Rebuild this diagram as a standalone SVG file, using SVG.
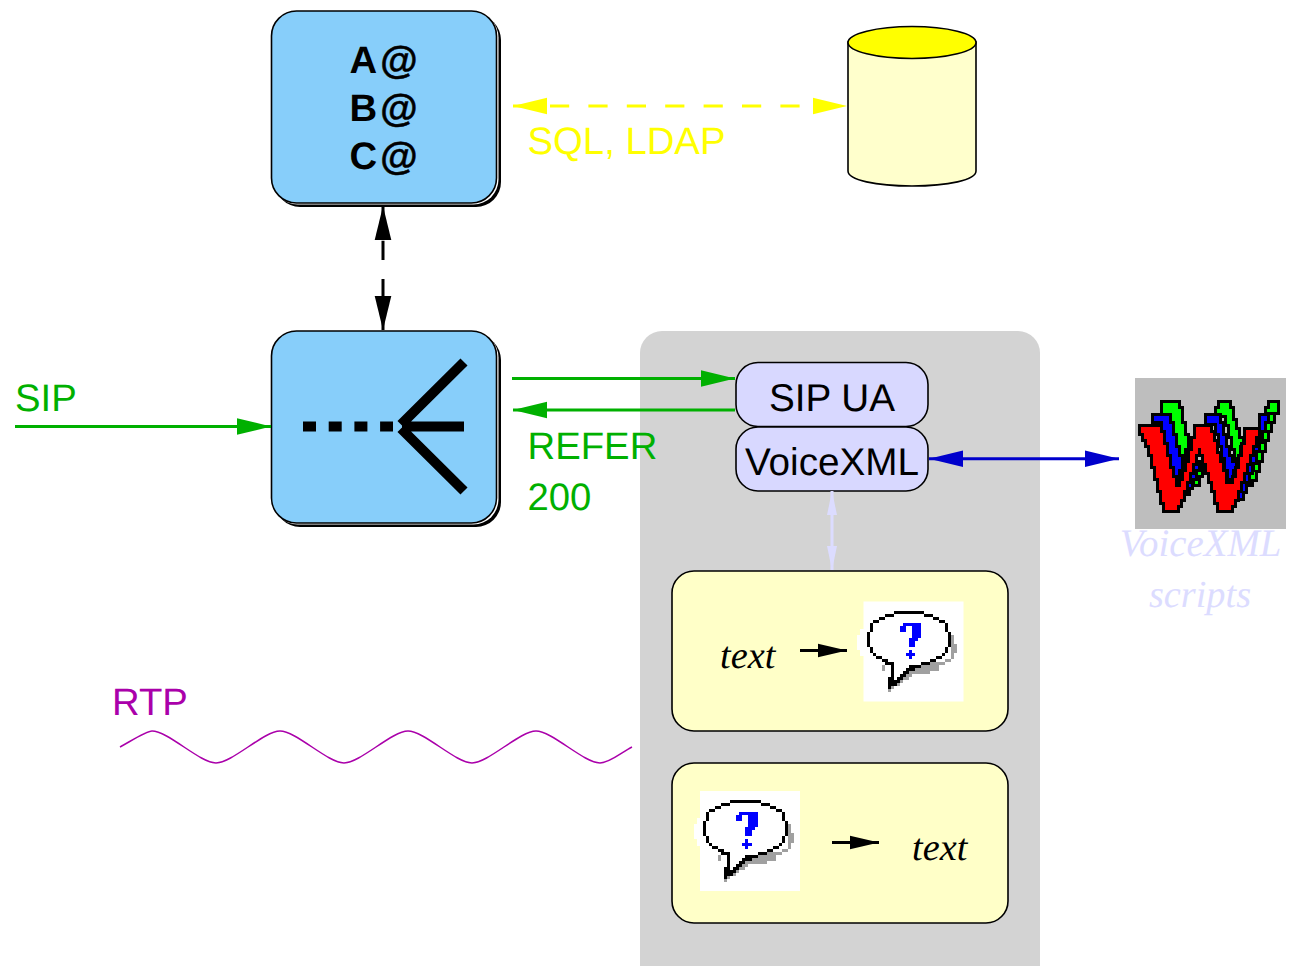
<svg xmlns="http://www.w3.org/2000/svg" width="1289" height="966" viewBox="0 0 1289 966">
<style>
text{font-family:"Liberation Sans",Arial,sans-serif;font-size:38.300px;text-rendering:geometricPrecision}
.b{font-weight:bold;text-anchor:middle;fill:#000}
.at{stroke:#000;stroke-width:.5}
.i{font-family:"Liberation Serif","Times New Roman",serif;font-style:italic}
.big{font-size:38.700px}
.m{text-anchor:middle}
.o{stroke:#000;stroke-width:1.600}
.g{fill:#00b000}
.ln{stroke-width:3;fill:none}
.w{stroke:#000;stroke-width:18;stroke-linejoin:miter;paint-order:stroke;shape-rendering:crispEdges}
.px{shape-rendering:crispEdges}
</style>
<defs>
<marker id="ak" markerUnits="userSpaceOnUse" markerWidth="36" markerHeight="20" refX="34" refY="10" orient="auto-start-reverse"><path d="M0 1.700L34 10L0 18.300z" fill="#000"/></marker>
<marker id="as" markerUnits="userSpaceOnUse" markerWidth="30" markerHeight="16" refX="29" refY="8" orient="auto"><path d="M0 1.200L29 8L0 14.800z" fill="#000"/></marker>
<marker id="ag" markerUnits="userSpaceOnUse" markerWidth="36" markerHeight="20" refX="34" refY="10" orient="auto-start-reverse"><path d="M0 1.700L34 10L0 18.300z" fill="#00b000"/></marker>
<marker id="ay" markerUnits="userSpaceOnUse" markerWidth="36" markerHeight="20" refX="34" refY="10" orient="auto-start-reverse"><path d="M0 1.700L34 10L0 18.300z" fill="#ffff00"/></marker>
<marker id="an" markerUnits="userSpaceOnUse" markerWidth="36" markerHeight="20" refX="34" refY="10" orient="auto-start-reverse"><path d="M0 1.700L34 10L0 18.300z" fill="#0000cc"/></marker>
<marker id="al" markerUnits="userSpaceOnUse" markerWidth="26" markerHeight="14" refX="24" refY="7" orient="auto-start-reverse"><path d="M0 2L24 7L0 12z" fill="#dcdcff"/></marker>
<g id="balloon">
<rect x="0" y="0" width="100" height="100" fill="#fff"/>
<g transform="scale(3.030)" class="px">
<path fill="#a0a0a0" d="M29 11H30V14H31V17H30V19H27V21H25V23H22V24H16V25H15V26H13V27H12V28H10V29H9V30H8V23H6V21H5V20H29Z"/>
<path fill="#fff" d="M10 3h10v1h3v1h2v1h2v2h1v2h1v5h-1v2h-1v1h-2v1h-2v1h-3v1h-4v1h-2v1h-1v1h-1v1h-1v1h-2v1h-1v1h-1v-7h-3v-1h-2v-1h-2v-1h-1v-2h-1v-5h1v-2h1v-1h2v-1h2v-1h3z"/>
<path fill="#000" d="M10 3h10v1h-10zM7 4h3v1h-3zM20 4h3v1h-3zM5 5h2v1h-2zM23 5h2v1h-2zM3 6h2v1h-2zM25 6h2v1h-2zM2 7h1v3h-1zM27 7h1v3h-1zM1 10h1v5h-1zM28 10h1v5h-1zM2 15h1v2h-1zM27 15h1v2h-1zM3 17h1v1h-1zM26 17h1v1h-1zM4 18h2v1h-2zM24 18h2v1h-2zM6 19h2v1h-2zM22 19h2v1h-2zM7 20h3v1h-3zM19 20h3v1h-3zM9 21h1v5h-1zM15 21h4v1h-4zM14 22h3v1h-3zM13 23h2v1h-2zM12 24h2v1h-2zM11 25h2v1h-2zM10 26h2v1h-2zM9 27h2v1h-2zM8 25h2v3h-2zM8 28h1v1h-1z"/>
<path fill="#0000ff" d="M13 7h6v1h-6zM12 8h2v2h-2zM16 8h3v4h-3zM15 12h3v1h-3zM15 13h2v2h-2zM15 16h1v1h1v1h-1v1h-1v-1h-1v-1h1z"/>
</g>
</g>
</defs>

<g id="container"><rect x="640" y="331" width="400" height="660" rx="22" fill="#d3d3d3"/></g>

<g id="directory">
<rect x="275" y="15" width="226" height="192" rx="25" fill="#000"/>
<rect x="272.500" y="12.500" width="226" height="192" rx="25" fill="#fff"/>
<rect x="271.500" y="11" width="225" height="192" rx="25" fill="#87cefa" class="o"/>
<text class="b" x="383.500" y="73">A<tspan dx="3" class="at">@</tspan></text>
<text class="b" x="383.500" y="121">B<tspan dx="3" class="at">@</tspan></text>
<text class="b" x="383.500" y="169">C<tspan dx="3" class="at">@</tspan></text>
</g>

<g id="database">
<path d="M848 42V171C848 180 876 186 912 186C948 186 976 180 976 171V42z" fill="#ffffcc" class="o"/>
<ellipse cx="912" cy="42.500" rx="64" ry="16" fill="#ffff00" class="o"/>
</g>
<text x="527.500" y="154" fill="#ffff00">SQL, LDAP</text>

<g id="router">
<rect x="275" y="335" width="226" height="192" rx="25" fill="#000"/>
<rect x="272.500" y="332.500" width="226" height="192" rx="25" fill="#fff"/>
<rect x="271.500" y="331" width="225" height="192" rx="25" fill="#87cefa" class="o"/>
<path d="M303 426.500H393" stroke="#000" stroke-width="10" stroke-dasharray="13 12.700" fill="none"/>
<path d="M464 362L401 424.500M464 491L401 428.500M402 426.500H464" stroke="#000" stroke-width="10" fill="none"/>
</g>
<text x="15" y="411" class="g">SIP</text>
<text x="527.500" y="459" class="g">REFER</text>
<text x="527.500" y="510" class="g">200</text>

<g id="sip-ua"><rect x="736" y="362.500" width="192" height="64" rx="22" fill="#d8d8ff" class="o"/><text class="m big" x="832" y="411" fill="#000">SIP UA</text></g>
<g id="voicexml"><rect x="736" y="427" width="192" height="64" rx="22" fill="#d8d8ff" class="o"/><text class="m big" x="832" y="475" fill="#000">VoiceXML</text></g>

<g id="scripts-icon">
<rect x="1135" y="378" width="151" height="151" fill="#bebebe"/>
<g transform="translate(1120 370) scale(.3333)">
<g class="w" fill="#00ff00">
<path d="M450 100H472V127H441V118H450Z"/>
<path d="M450 136h9v18h-9zM441 163h9v18h-9zM432 190h9v18h-9zM423 222h9v18h-9zM414 249h9v22h-9zM405 277h9v22h-9zM394 305h12v22h-12zM385 334h9v9h-9zM234 298h9v18h-9zM225 325h9v18h-9z"/>
<path d="M129 100H175V118H184V163H193V199H202V235H193V262H184V235H175V199H166V163H157V136H129Z"/>
<path d="M300 100H327V118H336V154H345V181H354V208H366V226H357V262H348V235H339V199H330V163H321V136H291V118H300Z"/>
</g>
<g class="w" fill="#0000ff">
<path d="M423 138h18v16h-9v27h-9zM414 181h9v27h-9zM405 213h9v27h-9zM394 240h12v36h-12zM384 280h9v25h-9zM375 307h9v27h-9zM365 335h9v27h-9zM357 362h9v22h-9zM225 280h9v18h-9zM216 298h9v27h-9zM205 325h9v27h-9zM196 352h9v18h-9z"/>
<path d="M102 137H148V163H157V199H166V235H175V262H184V298H175V325H166V298H157V262H148V226H139V190H130V154H102Z"/>
<path d="M262 137H298V163H307V199H316V235H325V262H334V280H345V298H336V325H327V298H318V262H309V226H300V190H291V160H262Z"/>
</g>
<path class="w" fill="#ff0000" d="M63 172H120V190H129V226H138V262H147V298H156V325H165V352H182V334H191V307H200V280H209V244H218V208H227V172H270V190H279V217H288V253H297V280H306V307H315V343H342V325H351V298H360V262H369V226H378V181H414V199H405V226H396V253H387V280H378V307H369V334H360V361H351V388H342V406H333V420H297V397H288V361H279V334H270V307H261V280H252V253H243V235H234V253H225V280H216V307H207V334H198V361H189V388H180V406H171V420H135V397H126V361H117V325H108V289H99V253H90V226H81V208H72V190H63Z"/>
</g>
</g>
<text class="i m" x="1200.500" y="556" fill="#dcdcff" style="font-size:38.800px">VoiceXML</text>
<text class="i m" x="1200" y="607" fill="#dcdcff">scripts</text>

<g id="tts">
<rect x="672" y="571" width="336" height="160" rx="22" fill="#ffffc8" class="o"/>
<text class="i" x="720" y="668" fill="#000">text</text>
<use href="#balloon" x="863.500" y="601.500"/>
</g>
<g id="asr">
<rect x="672" y="763" width="336" height="160" rx="22" fill="#ffffc8" class="o"/>
<use href="#balloon" x="700" y="791"/>
<text class="i" x="912" y="860" fill="#000">text</text>
</g>
<text x="112" y="715" fill="#aa00aa">RTP</text>

<g id="connectors" fill="none">
<path class="ln" d="M513 106H847" stroke="#ffff00" stroke-dasharray="19.200 19.200" stroke-dashoffset="1.400" marker-start="url(#ay)" marker-end="url(#ay)"/>
<path class="ln" d="M383 206V330" stroke="#000" stroke-dasharray="19.200 19.200" stroke-dashoffset="3.700" marker-start="url(#ak)" marker-end="url(#ak)"/>
<path class="ln" d="M15 426.500H271" stroke="#00b000" marker-end="url(#ag)"/>
<path class="ln" d="M512 378.500H735" stroke="#00b000" marker-end="url(#ag)"/>
<path class="ln" d="M735 410H513" stroke="#00b000" marker-end="url(#ag)"/>
<path class="ln" d="M929 458.700H1119" stroke="#0000cc" marker-start="url(#an)" marker-end="url(#an)"/>
<path class="ln" d="M832 491V570" stroke="#dcdcff" marker-start="url(#al)" marker-end="url(#al)"/>
<path class="ln" d="M800 650.500H847" stroke="#000" marker-end="url(#as)"/>
<path class="ln" d="M832 842.500H879" stroke="#000" marker-end="url(#as)"/>
<path d="M120 747C136 738 147 731 152 731C168 731 200 763 216 763C232 763 264 731 280 731C296 731 328 763 344 763C360 763 392 731 408 731C424 731 456 763 472 763C488 763 520 731 536 731C552 731 584 763 600 763C610 763 622 752 632 747" stroke="#aa00aa" stroke-width="1.500"/>
</g>
</svg>
